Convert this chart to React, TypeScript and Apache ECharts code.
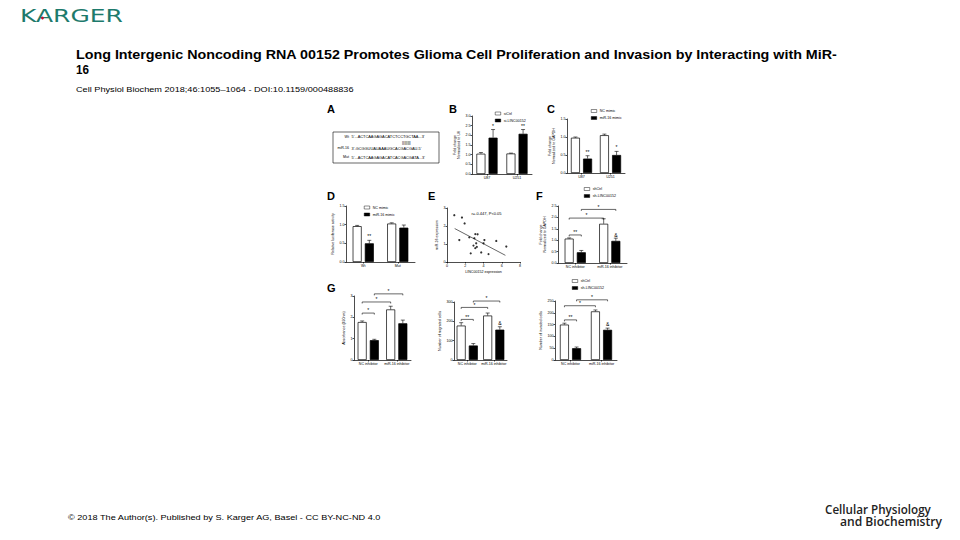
import React, { useEffect, useRef } from "react";
import * as echarts from "echarts";

const FONT = "Liberation Sans";

// ---------- slide texts ----------
const publisher = "KARGER";
const titleLine1 =
  "Long Intergenic Noncoding RNA 00152 Promotes Glioma Cell Proliferation and Invasion by Interacting with MiR-";
const titleLine2 = "16";
const citation = "Cell Physiol Biochem 2018;46:1055–1064 - DOI:10.1159/000488836";
const footer = "© 2018 The Author(s). Published by S. Karger AG, Basel - CC BY-NC-ND 4.0";
const journalLines = ["Cellular Physiology", "and Biochemistry"];
const panelLetters = ["A", "B", "C", "D", "E", "F", "G"];

// ---------- panel A (sequences) ----------
const seqLabels = ["Wt", "miR-16", "Mut"];
const seqTexts = [
  "5'...ACTCAAGAGACATCTCCTGCTAA...3'",
  "3'-GCGGUUAUAAAUGCACGACGAU-5'",
  "5'...ACTCAAGAGACATCACGACGATA...3'",
];
const pairing = "||||||||";

// ---------- panel B ----------
const bCategories = ["U87", "U251"];
const bSeries = ["siCtrl", "si-LINC00152"];
const bCtrl = [1.05, 1.06];
const bCtrlErr = [0.06, 0.02];
const bLinc = [1.88, 2.08];
const bLincErr = [0.42, 0.22];
const bMarks = [
  { c1: 0, s1: 1, c2: 0, s2: 1, y: 2.36, text: "*", line: false },
  { c1: 1, s1: 1, c2: 1, s2: 1, y: 2.36, text: "**", line: false },
];

// ---------- panel C ----------
const cCategories = ["U87", "U251"];
const cSeries = ["NC mimic", "miR-16 mimic"];
const cNC = [0.98, 1.05];
const cNCErr = [0.02, 0.03];
const cMiR = [0.4, 0.5];
const cMiRErr = [0.08, 0.1];
const cMarks = [
  { c1: 0, s1: 1, c2: 0, s2: 1, y: 0.52, text: "**", line: false },
  { c1: 1, s1: 1, c2: 1, s2: 1, y: 0.64, text: "*", line: false },
];

// ---------- panel D ----------
const dCategories = ["Wt", "Mut"];
const dNC = [0.96, 1.03];
const dNCErr = [0.02, 0.02];
const dMiR = [0.5, 0.92];
const dMiRErr = [0.08, 0.07];
const dMarks = [{ c1: 0, s1: 1, c2: 0, s2: 1, y: 0.62, text: "**", line: false }];

// ---------- panel E (scatter) ----------
const ePoints = [
  [0.8, 2.6], [1.64, 2.47], [1.93, 2.14], [1.35, 1.22], [2.44, 1.37],
  [3.1, 1.55], [3.35, 1.54], [3.0, 1.32], [3.2, 1.04], [2.9, 0.91],
  [3.1, 0.77], [3.27, 0.84], [2.6, 0.48], [3.75, 0.53], [4.1, 1.22],
  [4.0, 1.04], [4.55, 0.44], [5.4, 1.17], [6.5, 0.86],
];
const eFit = [[0.84, 1.86], [6.4, 0.37]];
const eStat = "r=-0.447, P<0.05";

// ---------- panel F ----------
const inhCategories = ["NC inhibitor", "miR-16 inhibitor"];
const shSeries = ["shCtrl", "sh-LINC00152"];
const fCtrl = [1.07, 1.72];
const fCtrlErr = [0.03, 0.22];
const fLinc = [0.47, 0.97];
const fLincErr = [0.08, 0.12];
const fMarks = [
  { c1: 0, s1: 0, c2: 0, s2: 1, y: 1.23, text: "**", line: true },
  { c1: 0, s1: 0, c2: 1, s2: 0, y: 1.97, text: "*", line: true },
  { c1: 0, s1: 1, c2: 1, s2: 1, y: 2.35, text: "*", line: true },
  { c1: 1, s1: 1, c2: 1, s2: 1, y: 1.12, text: "&", line: false },
];

// ---------- panel G ----------
const g1Ctrl = [1.78, 2.37];
const g1CtrlErr = [0.05, 0.15];
const g1Linc = [0.93, 1.72];
const g1LincErr = [0.04, 0.15];
const g1Marks = [
  { c1: 0, s1: 0, c2: 0, s2: 1, y: 2.2, text: "*", line: true },
  { c1: 0, s1: 0, c2: 1, s2: 0, y: 2.72, text: "*", line: true },
  { c1: 0, s1: 1, c2: 1, s2: 1, y: 3.1, text: "*", line: true },
];
const g2Ctrl = [178, 230];
const g2CtrlErr = [15, 13];
const g2Linc = [75, 157];
const g2LincErr = [10, 15];
const g2Marks = [
  { c1: 0, s1: 0, c2: 0, s2: 1, y: 210, text: "**", line: true },
  { c1: 0, s1: 0, c2: 1, s2: 0, y: 272, text: "*", line: true },
  { c1: 0, s1: 1, c2: 1, s2: 1, y: 305, text: "*", line: true },
  { c1: 1, s1: 1, c2: 1, s2: 1, y: 178, text: "&", line: false },
];
const g3Ctrl = [150, 206];
const g3CtrlErr = [6, 6];
const g3Linc = [50, 128];
const g3LincErr = [5, 7];
const g3Marks = [
  { c1: 0, s1: 0, c2: 0, s2: 1, y: 170, text: "**", line: true },
  { c1: 0, s1: 0, c2: 1, s2: 0, y: 230, text: "*", line: true },
  { c1: 0, s1: 1, c2: 1, s2: 1, y: 255, text: "*", line: true },
  { c1: 1, s1: 1, c2: 1, s2: 1, y: 142, text: "&", line: false },
];

// ---------- layout / style ----------
const BW = 9;
const GAP = 0.35;
const TXT = 3.6;
const LW = 0.7;
const off = (s: number) => (s === 0 ? -1 : 1) * (BW * (1 + GAP)) / 2;

function measure(text: string, font: string) {
  const ctx = document.createElement("canvas").getContext("2d");
  if (!ctx) return text.length * 6;
  ctx.font = font;
  return ctx.measureText(text).width || 1;
}

function fitText(
  text: string, x: number, y: number, size: number, weight: string,
  family: string, target: number, fill: string
) {
  const w = measure(text, `${weight} ${size}px '${family}'`);
  return {
    type: "text", x, y, scaleX: target / w, silent: true,
    style: { text, fontSize: size, fontWeight: weight, fontFamily: family, fill, align: "left", verticalAlign: "middle" },
  };
}

function plainText(text: string, x: number, y: number, size: number, opts: any = {}) {
  return {
    type: "text", x, y, silent: true,
    style: {
      text, fontSize: size, fontFamily: FONT, fill: "#000",
      fontWeight: opts.weight || "normal", align: opts.align || "left", verticalAlign: "middle",
    },
  };
}

function catAxis(grid: number, data: string[]) {
  return {
    type: "category", gridIndex: grid, data,
    axisLine: { show: true, lineStyle: { color: "#000", width: LW } },
    axisTick: { show: true, alignWithLabel: true, length: 1.5, lineStyle: { color: "#000", width: LW } },
    axisLabel: { fontSize: TXT, color: "#000", margin: 2, interval: 0, fontFamily: FONT },
    splitLine: { show: false },
  };
}

function valAxis(grid: number, max: number, interval: number, dec: number, name: string, nameGap: number) {
  return {
    type: "value", gridIndex: grid, min: 0, max, interval,
    name, nameLocation: "middle", nameGap, nameRotate: 90,
    nameTextStyle: { fontSize: TXT, color: "#000", fontFamily: FONT, lineHeight: 4.4 },
    axisLine: { show: true, lineStyle: { color: "#000", width: LW } },
    axisTick: { show: true, length: 1.5, lineStyle: { color: "#000", width: LW } },
    axisLabel: { fontSize: TXT, color: "#000", margin: 1.5, fontFamily: FONT, formatter: (v: number) => v.toFixed(dec) },
    splitLine: { show: false },
  };
}

function barPair(grid: number, names: string[], a: number[], b: number[]) {
  return [
    {
      type: "bar", name: names[0], xAxisIndex: grid, yAxisIndex: grid, data: a,
      barWidth: BW, barGap: `${GAP * 100}%`, silent: true,
      itemStyle: { color: "#fff", borderColor: "#000", borderWidth: LW },
    },
    {
      type: "bar", name: names[1], xAxisIndex: grid, yAxisIndex: grid, data: b,
      barWidth: BW, barGap: `${GAP * 100}%`, silent: true,
      itemStyle: { color: "#000", borderColor: "#000", borderWidth: LW },
    },
  ];
}

function errorSeries(grid: number, means: number[][], errs: number[][]) {
  const data: number[][] = [];
  means.forEach((arr, s) => arr.forEach((v, c) => data.push([c, v, errs[s][c], s])));
  return {
    type: "custom", xAxisIndex: grid, yAxisIndex: grid, silent: true, z: 5, data,
    renderItem: (_p: any, api: any) => {
      const c = api.value(0), v = api.value(1), e = api.value(2), s = api.value(3);
      const p0 = api.coord([c, v]);
      const p1 = api.coord([c, v + e]);
      const x = p0[0] + off(s);
      const st = { stroke: "#000", lineWidth: 0.6 };
      return {
        type: "group",
        children: [
          { type: "line", shape: { x1: x, y1: p0[1], x2: x, y2: p1[1] }, style: st },
          { type: "line", shape: { x1: x - 2, y1: p1[1], x2: x + 2, y2: p1[1] }, style: st },
        ],
      };
    },
  };
}

function markSeries(grid: number, marks: any[]) {
  return {
    type: "custom", xAxisIndex: grid, yAxisIndex: grid, silent: true, z: 6,
    data: marks.map((m) => [m.c1, m.y]),
    renderItem: (p: any, api: any) => {
      const m = marks[p.dataIndex];
      const a = api.coord([m.c1, m.y]);
      const b = api.coord([m.c2, m.y]);
      const xa = a[0] + off(m.s1);
      const xb = b[0] + off(m.s2);
      const st = { stroke: "#000", lineWidth: 0.6 };
      const children: any[] = [];
      if (m.line) {
        children.push({ type: "line", shape: { x1: xa, y1: a[1], x2: xb, y2: a[1] }, style: st });
        children.push({ type: "line", shape: { x1: xa, y1: a[1], x2: xa, y2: a[1] + 1.5 }, style: st });
        children.push({ type: "line", shape: { x1: xb, y1: a[1], x2: xb, y2: a[1] + 1.5 }, style: st });
      }
      children.push({
        type: "text", x: (xa + xb) / 2, y: a[1] - 0.2,
        style: { text: m.text, fontSize: 5, fontFamily: FONT, fill: "#000", align: "center", verticalAlign: "bottom" },
      });
      return { type: "group", children };
    },
  };
}

function legend(left: number, top: number, data: string[]) {
  return {
    orient: "vertical", left, top, padding: 0, itemGap: 3, itemWidth: 5.5, itemHeight: 3,
    icon: "rect", data, selectedMode: false,
    itemStyle: { borderWidth: 0.45, borderColor: "#000" },
    textStyle: { fontSize: TXT, color: "#000", fontFamily: FONT, padding: [0, 0, 0, -2] },
  };
}

export default function App() {
  const ref = useRef<HTMLDivElement>(null);

  useEffect(() => {
    if (!ref.current) return;
    const chart = echarts.init(ref.current, undefined, { renderer: "svg" });

    const grids = [
      { left: 472, top: 116, width: 60, height: 58 }, // B
      { left: 567, top: 119, width: 58, height: 54 }, // C
      { left: 346, top: 206, width: 69, height: 56 }, // D
      { left: 447, top: 208, width: 73, height: 54 }, // E
      { left: 558, top: 206, width: 69, height: 57 }, // F
      { left: 354, top: 296, width: 57, height: 64 }, // G1
      { left: 454, top: 302, width: 53, height: 58 }, // G2
      { left: 555, top: 301, width: 62, height: 59 }, // G3
    ];

    const xAxis: any[] = [
      catAxis(0, bCategories),
      catAxis(1, cCategories),
      catAxis(2, dCategories),
      {
        type: "value", gridIndex: 3, min: 0, max: 8, interval: 2,
        name: "LINC00152 expression", nameLocation: "middle", nameGap: 8,
        nameTextStyle: { fontSize: TXT, color: "#000", fontFamily: FONT },
        axisLine: { show: true, lineStyle: { color: "#000", width: LW } },
        axisTick: { show: true, length: 1.5, lineStyle: { color: "#000", width: LW } },
        axisLabel: { fontSize: TXT, color: "#000", margin: 2, fontFamily: FONT },
        splitLine: { show: false },
      },
      catAxis(4, inhCategories),
      catAxis(5, inhCategories),
      catAxis(6, inhCategories),
      catAxis(7, inhCategories),
    ];

    const yAxis: any[] = [
      valAxis(0, 3, 0.5, 1, "Fold change\nNormalized to U6", 8),
      valAxis(1, 1.5, 0.5, 1, "Fold change\nNormalized to GAPDH", 8),
      valAxis(2, 1.5, 0.5, 1, "Relative luciferase activity", 7),
      valAxis(3, 3, 1, 0, "miR-16 expression", 5),
      valAxis(4, 2.5, 0.5, 1, "Fold change\nNormalized to GAPDH", 8),
      valAxis(5, 3, 1, 0, "Absorbance (490nm)", 5),
      valAxis(6, 300, 100, 0, "Number of migrated cells", 10),
      valAxis(7, 250, 50, 0, "Number of invaded cells", 10),
    ];

    const series: any[] = [
      ...barPair(0, bSeries, bCtrl, bLinc),
      errorSeries(0, [bCtrl, bLinc], [bCtrlErr, bLincErr]),
      markSeries(0, bMarks),
      ...barPair(1, cSeries, cNC, cMiR),
      errorSeries(1, [cNC, cMiR], [cNCErr, cMiRErr]),
      markSeries(1, cMarks),
      ...barPair(2, cSeries, dNC, dMiR),
      errorSeries(2, [dNC, dMiR], [dNCErr, dMiRErr]),
      markSeries(2, dMarks),
      {
        type: "scatter", xAxisIndex: 3, yAxisIndex: 3, data: ePoints, symbolSize: 2.2,
        itemStyle: { color: "#000" }, silent: true,
      },
      {
        type: "line", xAxisIndex: 3, yAxisIndex: 3, data: eFit, symbol: "none",
        lineStyle: { color: "#000", width: 0.6 }, silent: true,
      },
      ...barPair(4, shSeries, fCtrl, fLinc),
      errorSeries(4, [fCtrl, fLinc], [fCtrlErr, fLincErr]),
      markSeries(4, fMarks),
      ...barPair(5, shSeries, g1Ctrl, g1Linc),
      errorSeries(5, [g1Ctrl, g1Linc], [g1CtrlErr, g1LincErr]),
      markSeries(5, g1Marks),
      ...barPair(6, shSeries, g2Ctrl, g2Linc),
      errorSeries(6, [g2Ctrl, g2Linc], [g2CtrlErr, g2LincErr]),
      markSeries(6, g2Marks),
      ...barPair(7, shSeries, g3Ctrl, g3Linc),
      errorSeries(7, [g3Ctrl, g3Linc], [g3CtrlErr, g3LincErr]),
      markSeries(7, g3Marks),
    ];

    const letterPos = [
      [327, 109], [449, 109], [547, 109], [327, 196], [428, 196], [536, 196], [327, 288],
    ];

    const graphic: any[] = [
      fitText(publisher, 20, 16, 17, "normal", "DejaVu Sans", 103, "#1d7a6c"),
      { type: "circle", shape: { cx: 42.5, cy: 18, r: 1.4 }, style: { fill: "#c8102e" }, silent: true },
      fitText(titleLine1, 76, 55, 12, "bold", FONT, 762, "#000"),
      fitText(titleLine2, 76, 70, 12, "bold", FONT, 13, "#000"),
      fitText(citation, 76, 90, 7, "normal", FONT, 278, "#000"),
      fitText(footer, 68, 517, 7.5, "normal", FONT, 314, "#000"),
      fitText(journalLines[0], 825, 509, 12, "600", "Open Sans", 106, "#222"),
      fitText(journalLines[1], 840, 522, 12, "600", "Open Sans", 102, "#222"),
      // panel A box and sequences
      {
        type: "rect", shape: { x: 333, y: 132, width: 106, height: 31 },
        style: { fill: "none", stroke: "#000", lineWidth: 0.6 }, silent: true,
      },
      plainText(seqLabels[0], 349, 136.7, TXT, { align: "right" }),
      plainText(seqTexts[0], 351.5, 136.7, 3.9),
      plainText(pairing, 402, 142.6, 4.2),
      plainText(seqLabels[1], 349, 148.3, TXT, { align: "right" }),
      plainText(seqTexts[1], 351.5, 148.3, 3.9),
      plainText(seqLabels[2], 349, 157.3, TXT, { align: "right" }),
      plainText(seqTexts[2], 351.5, 157.3, 3.9),
      plainText(eStat, 471.5, 213.3, 4),
      ...panelLetters.map((l, i) => plainText(l, letterPos[i][0], letterPos[i][1], 11, { weight: "bold" })),
    ];

    chart.setOption({
      animation: false,
      textStyle: { fontFamily: FONT },
      grid: grids,
      xAxis,
      yAxis,
      legend: [
        legend(495, 111.5, bSeries),
        legend(591, 109, cSeries),
        legend(364, 205.5, cSeries),
        legend(584, 187, shSeries),
        legend(572, 279, shSeries),
      ],
      series,
      graphic: { elements: graphic },
    });

    return () => chart.dispose();
  }, []);

  return (
    <div
      ref={ref}
      style={{ position: "absolute", left: 0, top: 0, width: 960, height: 540, background: "#fff" }}
    />
  );
}
